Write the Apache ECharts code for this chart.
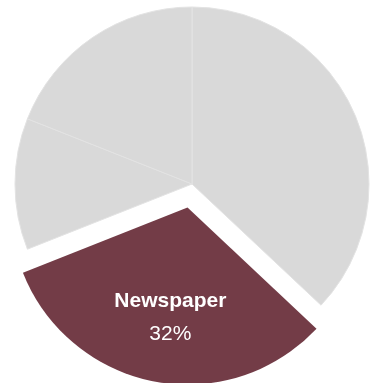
<!DOCTYPE html>
<html>
<head>
<meta charset="utf-8">
<script src="https://cdn.jsdelivr.net/npm/echarts@6/dist/echarts.min.js"></script>
<style>
  html, body { margin: 0; padding: 0; background: #ffffff; }
  #chart { width: 370px; height: 383px; }
</style>
</head>
<body>
<div id="chart"></div>
<script>
// Share of each source, in percent, clockwise from 12 o'clock
const categories = ['Television', 'Newspaper', 'Radio', 'Online'];
const shares = [37, 32, 12, 19];
const highlighted = 'Newspaper';

const grey = '#d9d9d9';
const maroon = '#733c47';

const chart = echarts.init(document.getElementById('chart'), null, { renderer: 'canvas' });

const data = categories.map((name, i) => {
  const isHi = name === highlighted;
  const color = isHi ? maroon : grey;
  return {
    name: name,
    value: shares[i],
    selected: isHi,
    itemStyle: {
      color: color,
      borderColor: isHi ? maroon : '#e3e3e3',
      borderWidth: isHi ? 0 : 1
    },
    select: { itemStyle: { color: color, borderWidth: 0 } },
    label: { show: isHi }
  };
});

chart.setOption({
  animation: false,
  backgroundColor: '#ffffff',
  series: [{
    type: 'pie',
    center: [192, 184],
    radius: 177,
    startAngle: 90,
    clockwise: true,
    selectedMode: 'single',
    selectedOffset: 24,
    silent: true,
    emphasis: { disabled: true },
    label: {
      position: 'inside',
      padding: [40, 0, 0, 0],
      formatter: p => '{name|' + p.name + '}\n{pct|' + p.value + '%}',
      rich: {
        name: {
          fontFamily: 'Liberation Sans, Arial, sans-serif',
          fontWeight: 'bold',
          fontSize: 21,
          color: '#ffffff',
          lineHeight: 33,
          align: 'center'
        },
        pct: {
          fontFamily: 'Liberation Sans, Arial, sans-serif',
          fontSize: 21,
          color: '#ffffff',
          lineHeight: 33,
          align: 'center'
        }
      }
    },
    labelLine: { show: false },
    data: data
  }]
});
</script>
</body>
</html>
